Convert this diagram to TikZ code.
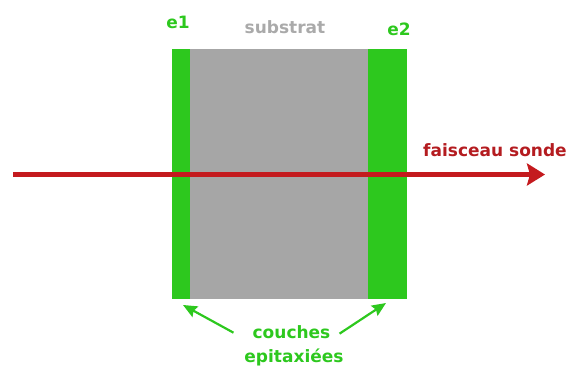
\documentclass[tikz,border=0pt]{standalone}
\usepackage{fontspec}
\setmainfont{DejaVu Sans}
\usepackage{xcolor}
\usepackage{tikz}
\usetikzlibrary{arrows, arrows.meta, positioning, calc}
\definecolor{layergreen}{RGB}{45, 200, 30}
\definecolor{substrategray}{RGB}{166, 166, 166}
\definecolor{labelgray}{RGB}{170, 170, 170}
\definecolor{beamred}{RGB}{196, 26, 30}
\definecolor{beamtext}{RGB}{180, 28, 32}

\begin{document}
\begin{tikzpicture}[x=1pt, y=-1pt,
    layer/.style={fill=layergreen, draw=none, inner sep=0pt, anchor=north west, minimum height=250pt},
    slab/.style={fill=substrategray, draw=none, inner sep=0pt, anchor=north west, minimum height=250pt},
    lbl/.style={font=\fontsize{17}{20}\selectfont\bfseries, inner sep=0pt, anchor=base}]
    \useasboundingbox (0,0) rectangle (571,365);

    % substrate and the two epitaxial layers
    \node[slab, minimum width=178pt] (sub) at (190,49) {};
    \node[layer, minimum width=18pt] (e1) at (172,49) {};
    \node[layer, minimum width=39pt] (e2) at (368,49) {};

    % labels on top
    \node[lbl, text=layergreen] (e1lbl) at (178,28) {e1};
    \node[lbl, text=labelgray] (sublbl) at (285,33) {substrat};
    \node[lbl, text=layergreen] (e2lbl) at (399,35) {e2};

    % probe beam
    \coordinate (beamstart) at (13,174.5);
    \coordinate (beamend) at (545,174.5);
    \draw[beamred, line width=5pt, -{Stealth[length=18pt, width=22pt, inset=3pt]}] (beamstart) -- (beamend);
    \node[lbl, text=beamtext] (beamlbl) at (495,156) {faisceau sonde};

    % epitaxial layers label
    \node[lbl, text=layergreen] (couches) at (291.5,338) {couches};
    \node[lbl, text=layergreen] (epi) at (294,362) {epitaxiées};
    \coordinate (tipleft) at (183,305);
    \coordinate (tipright) at (386,303);
    \draw[layergreen, line width=2.2pt, -{Stealth[length=14pt, width=12pt, inset=2pt]}] ($(couches.west)+(-19,1)$) -- (tipleft);
    \draw[layergreen, line width=2.2pt, -{Stealth[length=14pt, width=12pt, inset=2pt]}] ($(couches.east)+(9,2)$) -- (tipright);
\end{tikzpicture}
\end{document}
